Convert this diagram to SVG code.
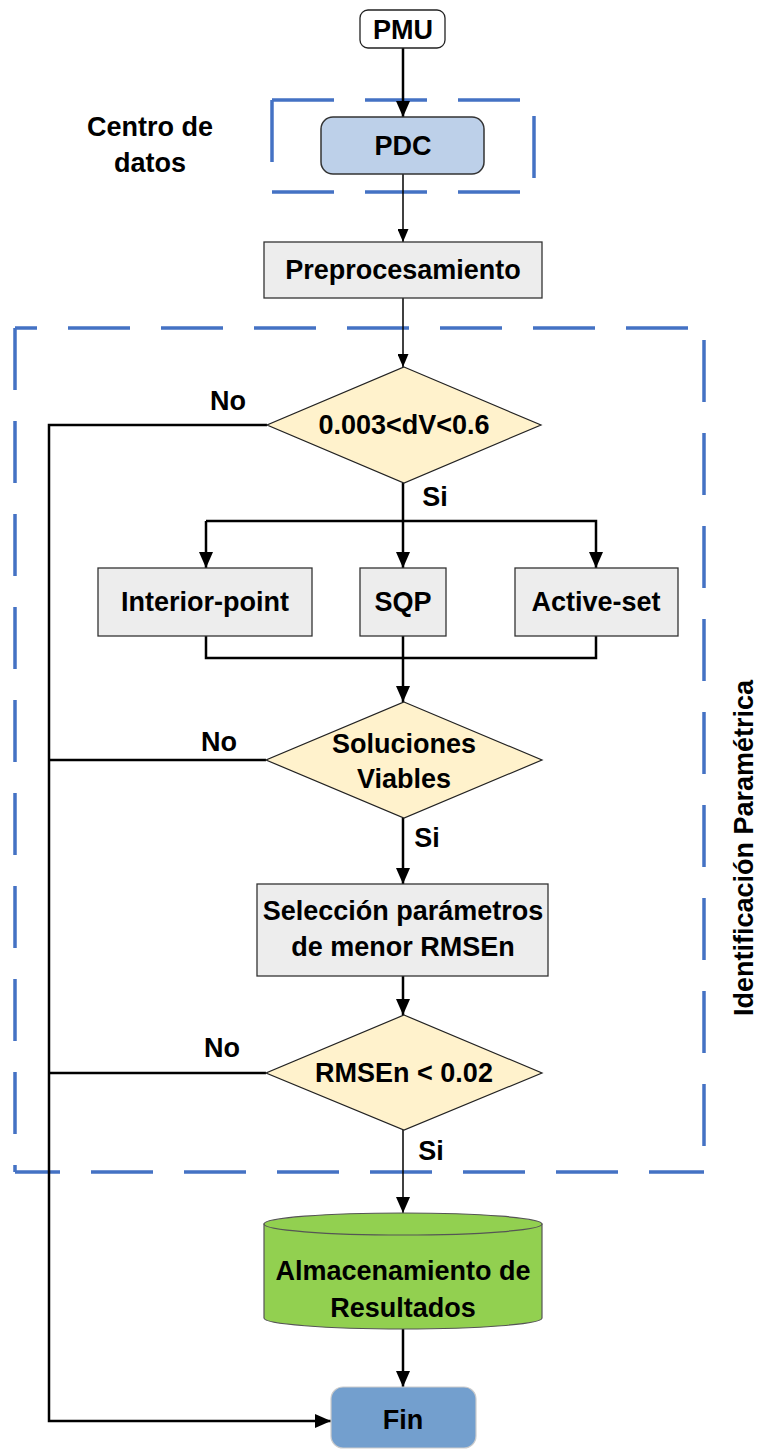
<svg xmlns="http://www.w3.org/2000/svg" width="758" height="1451" viewBox="0 0 758 1451">
<style>
text{font-family:"Liberation Sans",Arial,sans-serif;font-weight:bold;font-size:27px;fill:#000;text-anchor:middle}
.gbox{fill:#EDEDED;stroke:#333;stroke-width:1.3}
.dia{fill:#FFF2CC;stroke:#222;stroke-width:1.2}
.dash{stroke:#4472C4;stroke-width:3.5;fill:none;stroke-dasharray:62 31}
.c{fill:none;stroke:#000;stroke-width:2.5}
.t{fill:none;stroke:#000;stroke-width:1.5}
</style>
<defs>
<marker id="ah" markerUnits="userSpaceOnUse" viewBox="0 0 16 14" refX="16" refY="7" markerWidth="16" markerHeight="14" orient="auto"><path d="M0,0 L16,7 L0,14 z" fill="#000"/></marker>
<marker id="as" markerUnits="userSpaceOnUse" viewBox="0 0 13 11" refX="13" refY="5.5" markerWidth="13" markerHeight="11" orient="auto"><path d="M0,0 L13,5.5 L0,11 z" fill="#000"/></marker>
</defs>

<g id="frames">
<line class="dash" x1="272" y1="100" x2="534" y2="100"/>
<line class="dash" x1="272" y1="192" x2="534" y2="192"/>
<line class="dash" x1="272" y1="100" x2="272" y2="192"/>
<line class="dash" x1="534" y1="100" x2="534" y2="192" stroke-dashoffset="77"/>
<line class="dash" x1="15" y1="328" x2="704" y2="328" stroke-dashoffset="40"/>
<line class="dash" x1="15" y1="1172" x2="704" y2="1172" stroke-dashoffset="17"/>
<line class="dash" x1="15" y1="328" x2="15" y2="1172"/>
<line class="dash" x1="704" y1="328" x2="704" y2="1172" stroke-dashoffset="81"/>
</g>

<g id="connectors">
<line class="c" x1="403" y1="48" x2="403" y2="117" marker-end="url(#ah)"/>
<line class="t" x1="403" y1="174" x2="403" y2="242" marker-end="url(#as)"/>
<line class="t" x1="403" y1="298" x2="403" y2="367" marker-end="url(#as)"/>
<line class="c" x1="403" y1="483" x2="403" y2="568" marker-end="url(#ah)"/>
<path class="c" d="M206,521 H596 V568" marker-end="url(#ah)"/>
<line class="c" x1="206" y1="521" x2="206" y2="568" marker-end="url(#ah)"/>
<path class="c" d="M206,636 V658 H596 V636"/>
<line class="c" x1="403" y1="636" x2="403" y2="702" marker-end="url(#ah)"/>
<line class="c" x1="403" y1="818" x2="403" y2="884" marker-end="url(#ah)"/>
<line class="c" x1="403" y1="976" x2="403" y2="1015" marker-end="url(#ah)"/>
<line class="t" x1="403" y1="1130" x2="403" y2="1213" marker-end="url(#ah)"/>
<line class="c" x1="403" y1="1328" x2="403" y2="1387" marker-end="url(#ah)"/>
<path class="c" d="M267,425 H49 V1421 H331" marker-end="url(#ah)"/>
<line class="c" x1="266" y1="760" x2="49" y2="760"/>
<line class="c" x1="266" y1="1073" x2="49" y2="1073"/>
<text x="228" y="410">No</text>
<text x="219" y="751">No</text>
<text x="222" y="1057">No</text>
<text x="435" y="506">Si</text>
<text x="427" y="847">Si</text>
<text x="431" y="1160">Si</text>
</g>

<g id="pmu">
<rect x="360" y="10" width="85" height="38" rx="8" fill="#fff" stroke="#222" stroke-width="1.3"/>
<text x="403" y="39">PMU</text>
</g>
<g id="pdc">
<rect x="321" y="117" width="163" height="57" rx="12" fill="#BDD0E9" stroke="#333" stroke-width="1.5"/>
<text x="403" y="155">PDC</text>
</g>
<g id="centro">
<text x="150" y="136">Centro de</text>
<text x="150" y="172">datos</text>
</g>
<g id="preproc">
<rect class="gbox" x="264" y="242" width="278" height="56"/>
<text x="403" y="279">Preprocesamiento</text>
</g>
<g id="d1">
<polygon class="dia" points="404,367 541,425 404,483 267,425"/>
<text x="404" y="434">0.003&lt;dV&lt;0.6</text>
</g>
<g id="interior">
<rect class="gbox" x="98" y="568" width="214" height="68"/>
<text x="205" y="611">Interior-point</text>
</g>
<g id="sqp">
<rect class="gbox" x="360" y="568" width="86" height="68"/>
<text x="403" y="611">SQP</text>
</g>
<g id="active">
<rect class="gbox" x="515" y="568" width="163" height="68"/>
<text x="596" y="611">Active-set</text>
</g>
<g id="d2">
<polygon class="dia" points="404,702 542,760 404,818 266,760"/>
<text x="404" y="753">Soluciones</text>
<text x="404" y="788">Viables</text>
</g>
<g id="seleccion">
<rect class="gbox" x="257" y="884" width="291" height="92"/>
<text x="403" y="920">Selección parámetros</text>
<text x="403" y="956">de menor RMSEn</text>
</g>
<g id="d3">
<polygon class="dia" points="404,1015 542,1073 404,1130 266,1073"/>
<text x="404" y="1082">RMSEn &lt; 0.02</text>
</g>
<g id="almacen">
<path d="M264,1224 V1318 A139,11 0 0 0 542,1318 V1224 Z" fill="#92D050" stroke="#555" stroke-width="1.2"/>
<ellipse cx="403" cy="1224" rx="139" ry="11" fill="#92D050" stroke="#555" stroke-width="1.2"/>
<text x="403" y="1280">Almacenamiento de</text>
<text x="403" y="1317">Resultados</text>
</g>
<g id="fin">
<rect x="331" y="1387" width="145" height="61" rx="12" fill="#739FCE" stroke="#ccc" stroke-width="1.2"/>
<text x="403" y="1429">Fin</text>
</g>
<g id="label-identificacion">
<text transform="translate(753,848) rotate(-90)">Identificación  Paramétrica</text>
</g>
</svg>
